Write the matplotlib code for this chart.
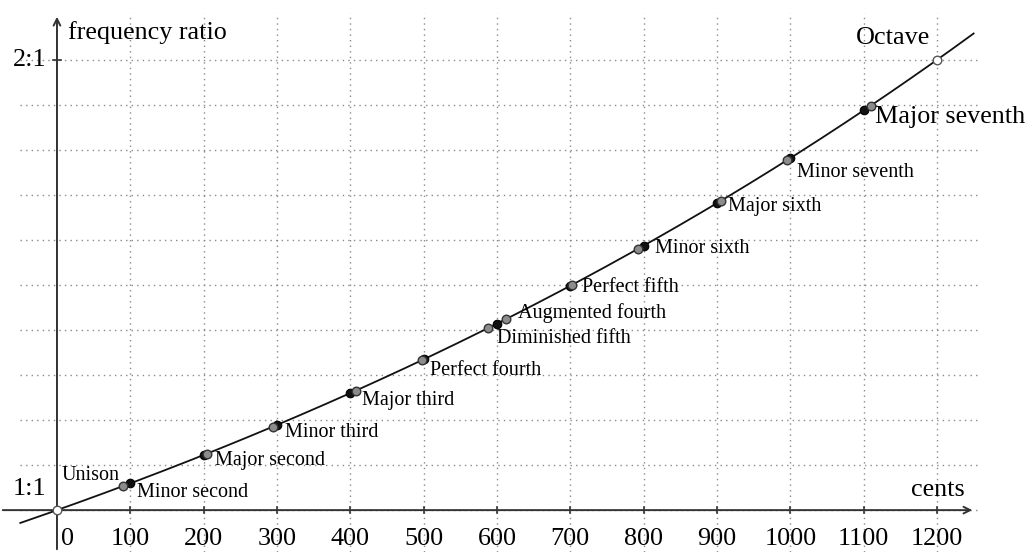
import numpy as np
import matplotlib
matplotlib.use("Agg")
import matplotlib.pyplot as plt

# Pythagorean intervals (cents, ratio)
names = ["Minor second", "Major second", "Minor third", "Major third", "Perfect fourth",
         "Diminished fifth", "Augmented fourth", "Perfect fifth", "Minor sixth",
         "Major sixth", "Minor seventh", "Major seventh"]
pyth_cents = [90.2, 203.9, 294.1, 407.8, 498.0, 588.3, 611.7, 702.0, 792.2, 905.9, 996.1, 1109.8]
pyth_ratio = [1.0535, 1.125, 1.1852, 1.2656, 1.3333, 1.4047, 1.4238, 1.5, 1.5802, 1.6875, 1.7778, 1.8984]

# equal temperament
et_cents = [100, 200, 300, 400, 500, 600, 700, 800, 900, 1000, 1100]
et_ratio = [1.0595, 1.1225, 1.1892, 1.2599, 1.3348, 1.4142, 1.4983, 1.5874, 1.6818, 1.7818, 1.8877]

ends_cents = [0, 1200]
ends_ratio = [1.0, 2.0]

tick_cents = list(range(0, 1300, 100))

# label offsets in pixels (dx, dy) relative to pythagorean point
offsets = [(14, -6), (8, -7), (12, -6), (6, -10), (8, -10), (9, -11), (12, 6),
           (10, -2), (17, 0), (7, -6), (10, -13), (4, -11)]
big = {"Major seventh"}

plt.rcParams['font.family'] = ['Liberation Serif', 'DejaVu Serif']

fig = plt.figure(figsize=(10.29, 5.52), dpi=100)
ax = fig.add_axes([0, 0, 1, 1])
ax.set_xlim(-77.7, 1325.5)
ax.set_ylim(0.907, 2.133)
ax.axis("off")

grid_kw = dict(color="#8a8a8a", linestyle=(0, (1, 3)), linewidth=1.0, zorder=1)
for r in np.arange(1.0, 2.05, 0.1):
    ax.plot([-50, 1259], [r, r], **grid_kw)
for c in tick_cents[1:]:
    ax.plot([c, c], [0.907, 2.104], **grid_kw)

# axes with arrows
ax.annotate("", xy=(1252, 1.0), xytext=(-77.7, 1.0),
            arrowprops=dict(arrowstyle="->", color="#333333", lw=1.4, mutation_scale=12), zorder=2)
ax.annotate("", xy=(0, 2.102), xytext=(0, 0.907),
            arrowprops=dict(arrowstyle="->", color="#333333", lw=1.4, mutation_scale=12), zorder=2)
for c in tick_cents[1:]:
    ax.plot([c, c], [0.993, 1.007], color="#333333", lw=1.2, zorder=2)
ax.plot([-6, 6], [2.0, 2.0], color="#333333", lw=1.2, zorder=2)

# curve ratio = 2^(cents/1200)
xc = np.linspace(-50, 1250, 400)
ax.plot(xc, 2 ** (xc / 1200), color="#111111", lw=1.3, zorder=3)

ax.scatter(et_cents, et_ratio, s=38, color="#111111", edgecolor="#000000", lw=0.8, zorder=4)
ax.scatter(pyth_cents, pyth_ratio, s=38, color="#8c8c8c", edgecolor="#333333", lw=1.0, zorder=5)
ax.scatter(ends_cents, ends_ratio, s=38, color="white", edgecolor="#555555", lw=1.0, zorder=5)

for name, c, r, (dx, dy) in zip(names, pyth_cents, pyth_ratio, offsets):
    ax.annotate(name, xy=(c, r), xytext=(dx, dy), textcoords="offset pixels",
                ha="left", va="center", fontsize=18.8 if name in big else 14.5, zorder=6)
ax.annotate("Unison", xy=(0, 1.0), xytext=(5, 35), textcoords="offset pixels",
            ha="left", va="center", fontsize=14.5)
ax.annotate("Octave", xy=(1200, 2.0), xytext=(-7, 22), textcoords="offset pixels",
            ha="right", va="center", fontsize=18.8)

for c in tick_cents:
    ax.annotate(str(c), xy=(c, 1.0), xytext=(11 if c == 0 else 0, -29), textcoords="offset pixels",
                ha="center", va="center", fontsize=18.8)
ax.text(-14, 2.0, "2:1", ha="right", va="center", fontsize=18.8)
ax.text(-14, 1.046, "1:1", ha="right", va="center", fontsize=18.8)
ax.text(15, 2.06, "frequency ratio", ha="left", va="center", fontsize=18.8)
ax.text(1238, 1.044, "cents", ha="right", va="center", fontsize=18.8)

fig.savefig("out.png", dpi=100)
